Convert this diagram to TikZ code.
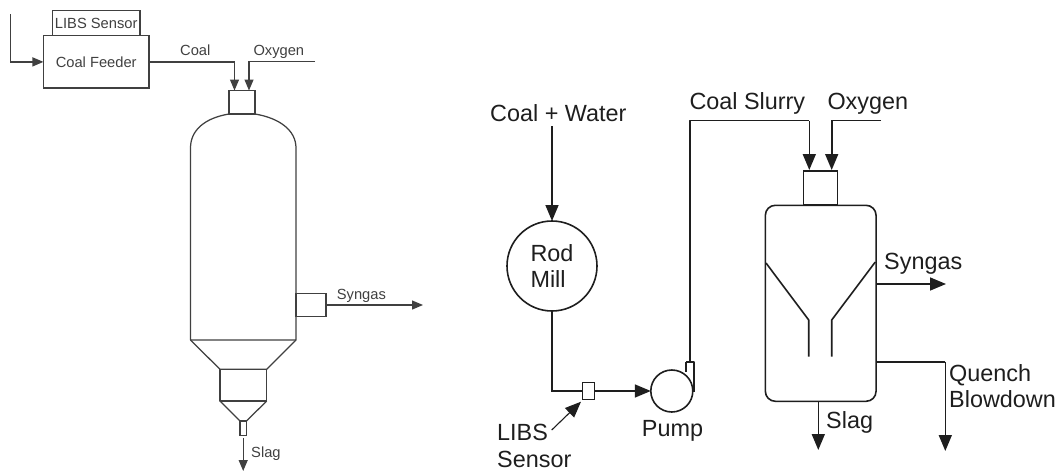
\documentclass[tikz,border=0pt]{standalone}
\usepackage{fontspec}
\setmainfont{Liberation Sans}
\usetikzlibrary{arrows.meta}
\definecolor{lk}{HTML}{404040}
\definecolor{rk}{HTML}{1E1E1E}
\tikzset{
  leftpart/.style={draw=lk,line width=1.25pt,text=lk,font=\fontsize{14.7}{17}\selectfont},
  rightpart/.style={draw=rk,line width=1.6pt,text=rk,font=\fontsize{23.4}{26}\selectfont},
  lbox/.style={leftpart,fill=white,inner sep=0pt,outer sep=0pt},
  rbox/.style={rightpart,fill=white,inner sep=0pt,outer sep=0pt},
  lline/.style={draw=lk,line width=1.25pt},
  rline/.style={draw=rk,line width=1.6pt},
  lflow/.style={lline,-{Triangle[length=11pt,width=9pt]}},
  rflow/.style={rline,-{Triangle[length=16pt,width=13pt]}},
  ltext/.style={text=lk,font=\fontsize{14.7}{17}\selectfont,inner sep=0pt,anchor=base west},
  rtext/.style={text=rk,font=\fontsize{23.4}{26}\selectfont,inner sep=0pt,anchor=base west},
}
\begin{document}
\begin{tikzpicture}[x=1pt,y=-1pt]
\useasboundingbox (0,0) rectangle (1060,471);
% ---------- left: entrained-flow gasifier
\node[lbox,minimum width=87.5pt,minimum height=25.2pt] (libs) at (96.2,23.1) {LIBS Sensor};
\node[lbox,minimum width=105.5pt,minimum height=52.3pt] (feeder) at (96.2,61.9) {Coal Feeder};
\node[lbox,minimum width=26pt,minimum height=23.5pt] (lnoz) at (242,102.2) {};
\coordinate (lin0) at (10.5,14);
\coordinate (lcoal) at (234.5,90.5);
\coordinate (loxy0) at (315,61.5);
\coordinate (loxy) at (249,90.5);
\draw[lflow] (lin0) |- (feeder.west);
\draw[lflow] (feeder.east) -| (lcoal);
\draw[lflow] (loxy0) -| (loxy);
\draw[lline,line join=round] (229,114) .. controls (205,118) and (190.5,130) .. (190.5,148)
   -- (190.5,340) -- (296,340) -- (296,148) .. controls (296,130) and (279,118) .. (255,114);
\draw[lline,line join=round] (190.5,340) -- (220,369.3) -- (266.7,369.3) -- (296,340);
\draw[lline,line join=round] (220,369.3) -- (220,401) -- (266.7,401) -- (266.7,369.3);
\draw[lline,line join=round] (220,401) -- (240,421) -- (246.5,421) -- (266.7,401);
\node[lbox,minimum width=6.5pt,minimum height=14.7pt] (lslagbox) at (243.2,428.3) {};
\node[lbox,minimum width=30pt,minimum height=22.3pt] (lsynbox) at (311,305) {};
\coordinate (lslag0) at (243.2,438);
\coordinate (lslag) at (243.2,471);
\coordinate (lsyn0) at (327,305);
\coordinate (lsyn) at (423,305);
\draw[lflow] (lslag0) -- (lslag);
\draw[lflow] (lsyn0) -- (lsyn);
\node[ltext] (tcoal) at (180,55.7) {Coal};
\node[ltext] (toxyl) at (253.3,55.7) {Oxygen};
\node[ltext] (tsynl) at (336.7,299.3) {Syngas};
\node[ltext] (tslagl) at (251,457.3) {Slag};
% ---------- right: slurry-fed gasifier
\node[rtext] (tcw) at (490,121.7) {Coal + Water};
\node[rbox,circle,minimum size=90pt,align=left] (mill) at (552,266) {Rod\\Mill};
\coordinate (cw0) at (552,126);
\draw[rflow] (cw0) -- (mill.north);
\node[rbox,minimum width=12pt,minimum height=17pt] (sensor) at (588.3,391) {};
\node[rbox,circle,minimum size=42pt] (pump) at (671.8,391) {};
\coordinate (corner) at (552,391);
\draw[rline] (mill.south) -- (corner) -- (sensor.west);
\draw[rflow] (sensor.east) -- (pump.west);
\coordinate (pout) at (690,361.7);
\draw[rline,line join=round] (686,361.7) -- (694,361.7) -- (694,392);
\draw[rline] (686,361.7) -- (686,372);
\node[rtext] (tlibs) at (497,440.7) {LIBS};
\node[rtext] (tsens) at (497,467.7) {Sensor};
\node[rtext] (tpump) at (641.7,436) {Pump};
\coordinate (libs0) at (551.7,430);
\coordinate (libs1) at (581,401.7);
\draw[draw=rk,line width=1.1pt,-{Triangle[length=16pt,width=13pt]}] (libs0) -- (libs1);
\node[rbox,minimum width=34pt,minimum height=34.5pt] (rnoz) at (820.3,188) {};
\coordinate (rcoal) at (809.3,170);
\coordinate (roxy0) at (881,120.5);
\coordinate (roxy) at (831.7,170);
\coordinate (top) at (690,120.5);
\draw[rline,line join=round] (pout) -- (top) -- (top -| rcoal);
\draw[rflow] (top -| rcoal) -- (rcoal);
\draw[rflow] (roxy0) -| (roxy);
\node[rbox,rounded corners=10pt,minimum width=110.7pt,minimum height=196pt] (gas) at (820.7,303.3) {};
\draw[rline,line join=round] (766,263) -- (808.7,320) -- (808.7,356.7);
\draw[rline,line join=round] (875.3,262) -- (831.7,320) -- (831.7,356.7);
\coordinate (syn) at (946,284);
\draw[rflow] (gas.east |- syn) -- (syn);
\coordinate (q1) at (945.3,361.7);
\coordinate (q2) at (945.3,451);
\draw[rline] (gas.east |- q1) -- (q1);
\draw[rflow] (q1) -- (q2);
\coordinate (rslag) at (818.3,450);
\draw[rflow] (gas.south -| rslag) -- (rslag);
\node[rtext] (tslur) at (689.3,109.3) {Coal Slurry};
\node[rtext] (toxyr) at (827.3,109.3) {Oxygen};
\node[rtext] (tsynr) at (884,269) {Syngas};
\node[rtext] (tslagr) at (826,428.3) {Slag};
\node[rtext] (tq) at (949,381.7) {Quench};
\node[rtext] (tb) at (949,407.7) {Blowdown};
\end{tikzpicture}
\end{document}
